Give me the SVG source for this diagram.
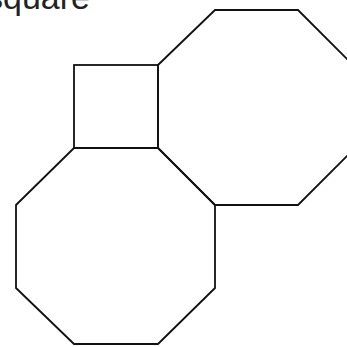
<svg xmlns="http://www.w3.org/2000/svg" width="347" height="347" viewBox="0 0 347 347">
<style>
.s{fill:none;stroke:#111;stroke-width:1.8;stroke-linejoin:miter}
.t{font-family:"Liberation Sans",Arial,sans-serif;font-size:34px;fill:#222}
</style>
<rect width="347" height="347" fill="#fff"/>
<text class="t" x="-14" y="9">square</text>
<g id="octagon-upper"><polygon class="s" points="215,10 298,10 356,68 356,147 298,205 215,205 158,148 158,65"/></g>
<g id="octagon-lower"><polygon class="s" points="74,148 158,148 215,205 215,288 158,344 74,344 16,288 16,205"/></g>
<g id="square"><rect class="s" x="74" y="65" width="84" height="83"/></g>
</svg>
